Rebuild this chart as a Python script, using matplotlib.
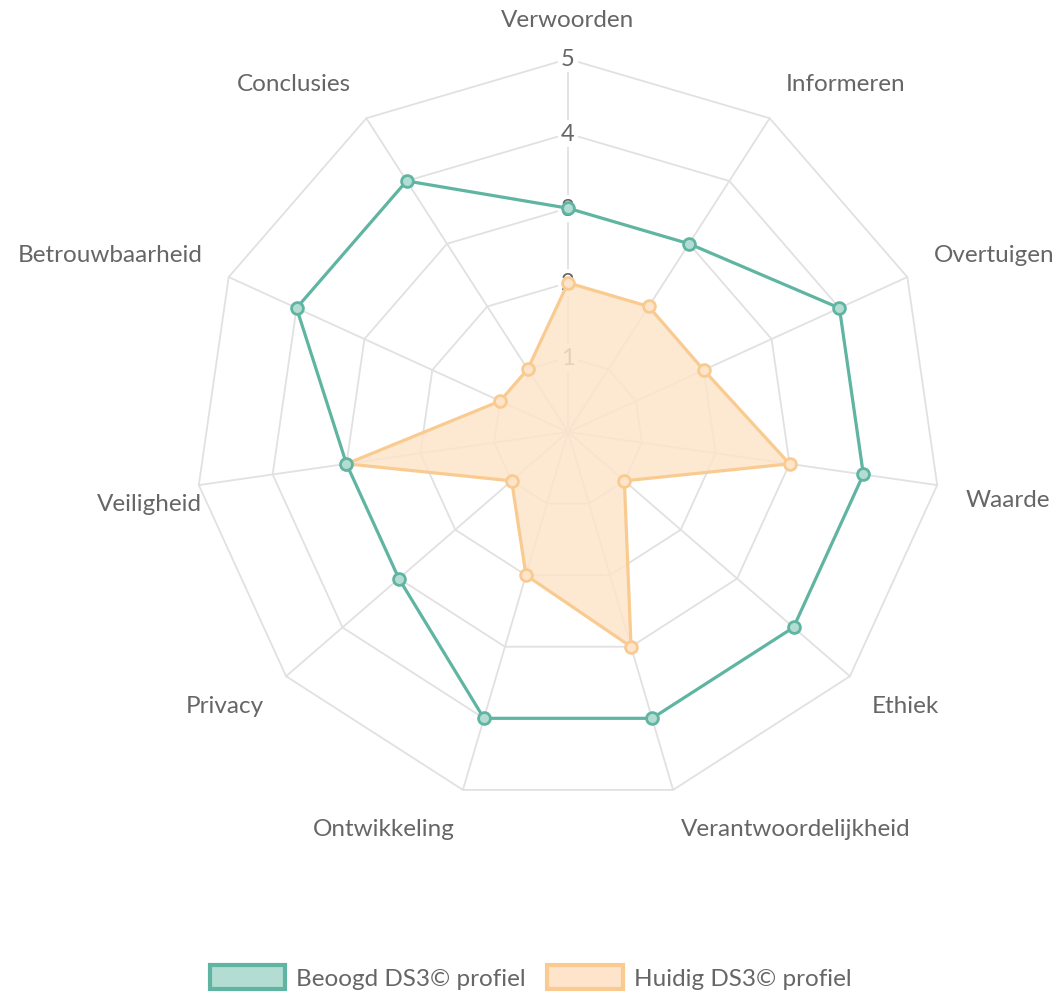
import numpy as np
import matplotlib
matplotlib.use("Agg")
import matplotlib.pyplot as plt
from matplotlib.patches import Patch

categories = ["Verwoorden", "Informeren", "Overtuigen", "Waarde", "Ethiek",
              "Verantwoordelijkheid", "Ontwikkeling", "Privacy", "Veiligheid",
              "Betrouwbaarheid", "Conclusies"]
beoogd = [3, 3, 4, 4, 4, 4, 4, 3, 3, 4, 4]
huidig = [2, 2, 2, 3, 1, 3, 2, 1, 3, 1, 1]
ticks = [1, 2, 3, 4, 5]
series_names = ["Beoogd DS3© profiel", "Huidig DS3© profiel"]

plt.rcParams['font.family'] = ['Lato', 'DejaVu Sans']
TEXT = "#666666"
GREEN = "#5fb5a2"
GREEN_FILL = "#b3ddd3"
ORANGE = "#f9cb90"
ORANGE_FILL = "#fde4cb"
GRID = "#e1e1e1"

W, H = 1061, 995
fig = plt.figure(figsize=(W / 100, H / 100), dpi=100)
cx, cy, R = 568, 433, 373
ax = fig.add_axes([(cx - R) / W, 1 - (cy + R) / H, 2 * R / W, 2 * R / H], projection='polar')
ax.set_theta_zero_location('N')
ax.set_theta_direction(-1)
ax.set_ylim(0, 5)
ax.grid(False)
ax.spines['polar'].set_visible(False)
ax.set_xticks([])
ax.set_yticks([])
ax.patch.set_alpha(0)

n = len(categories)
angles = np.arange(n) * 2 * np.pi / n
ang_c = np.append(angles, angles[0])

# polygon grid
for t in ticks:
    ax.plot(ang_c, [t] * (n + 1), color=GRID, lw=1.3, zorder=1, clip_on=False)
for a in angles:
    ax.plot([a, a], [0, 5], color=GRID, lw=1.3, zorder=1, clip_on=False)

# tick labels
for t in ticks:
    ax.text(0, t, str(t), ha='center', va='center', fontsize=17, color=TEXT, zorder=2,
            bbox=dict(boxstyle='square,pad=0.12', fc='white', ec='none'))

# data
h = np.append(huidig, huidig[0])
b = np.append(beoogd, beoogd[0])
ax.fill(ang_c, h, color=ORANGE_FILL, alpha=0.85, zorder=3, lw=0)
ax.plot(ang_c, h, color=ORANGE, lw=2.3, zorder=4, clip_on=False)
ax.plot(angles, huidig, 'o', ms=8.5, mfc=ORANGE_FILL, mec=ORANGE, mew=2, zorder=5, clip_on=False)
ax.plot(ang_c, b, color=GREEN, lw=2.3, zorder=6, clip_on=False)
ax.plot(angles, beoogd, 'o', ms=8.5, mfc=GREEN_FILL, mec=GREEN, mew=2, zorder=7, clip_on=False)

# point labels
label_r = {"Veiligheid": 4.96}
label_dy = {"Veiligheid": -6}
for a, lab in zip(angles, categories):
    s, c = np.sin(a), np.cos(a)
    if abs(s) < 0.05:
        ha = 'center'
    elif s > 0:
        ha = 'left'
    else:
        ha = 'right'
    va = 'bottom' if c > 0 else 'top'
    r = label_r.get(lab, 5.39)
    ax.annotate(lab, xy=(a, r), xytext=(0, label_dy.get(lab, 0)), textcoords='offset points',
                ha=ha, va=va, fontsize=17.5, color=TEXT, annotation_clip=False)

handles = [Patch(facecolor=GREEN_FILL, edgecolor=GREEN, lw=3),
           Patch(facecolor=ORANGE_FILL, edgecolor=ORANGE, lw=3)]
fig.legend(handles, series_names, loc='center', bbox_to_anchor=(0.5, 1 - 978 / H),
           ncol=2, frameon=False, fontsize=17.5, labelcolor=TEXT,
           handlelength=3.1, handleheight=1.15, handletextpad=0.45, columnspacing=0.9)

fig.savefig("out.png", dpi=100)
